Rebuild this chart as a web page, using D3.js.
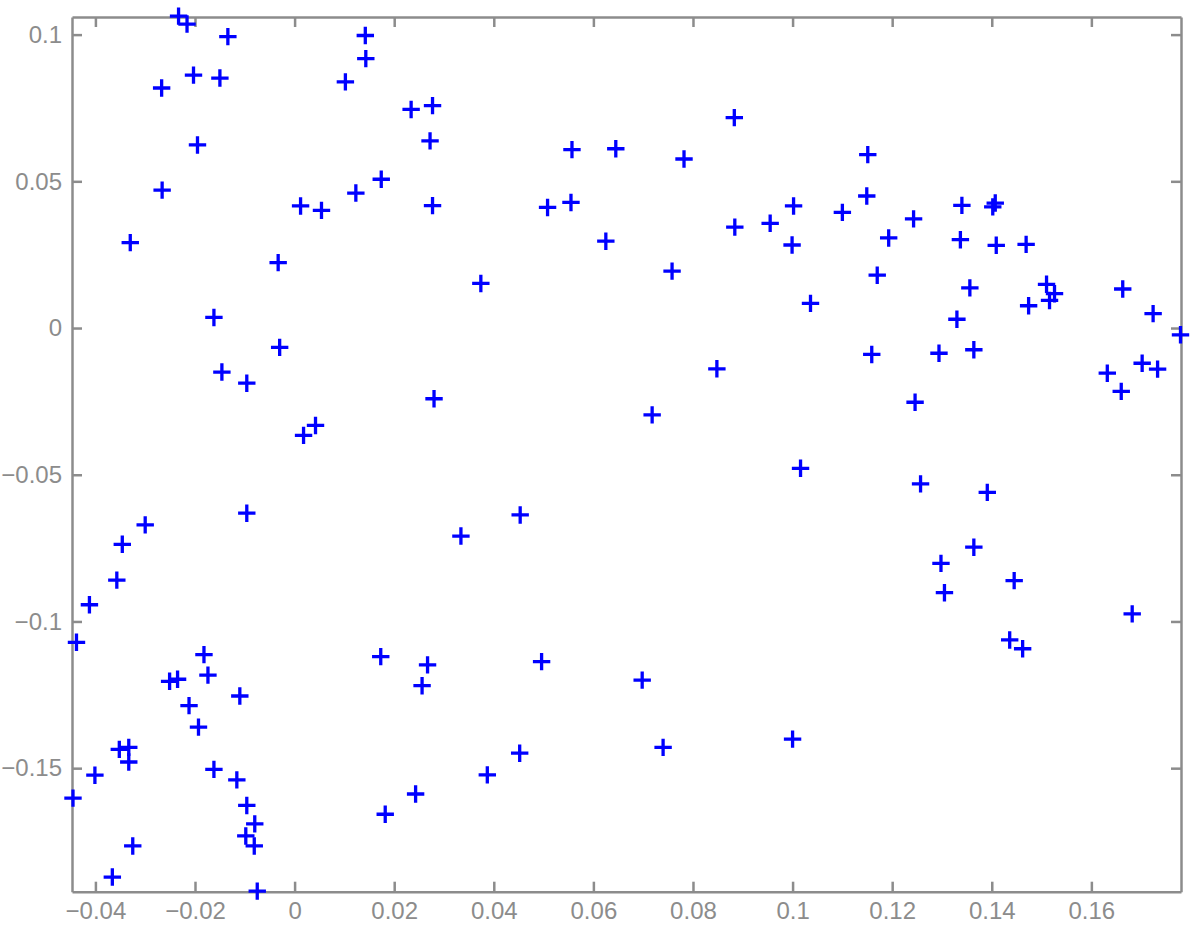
<!DOCTYPE html>
<html>
<head>
<meta charset="utf-8">
<script src="https://cdn.jsdelivr.net/npm/d3@7"></script>
<style>
  html, body { margin: 0; padding: 0; background: #fff; }
  svg { display: block; }
</style>
</head>
<body>
<svg id="chart" width="1200" height="925"></svg>
<script>
// Data
const xValues = [
  -0.0233, -0.0216, -0.0134, 0.0142, 0.0143, 0.0102, -0.0203, -0.0150, -0.0267, 0.0234,
  0.0277, 0.0272, -0.0195, -0.0266, 0.0174, 0.0123, 0.0012, 0.0054, 0.0277, -0.0330,
  -0.0033, -0.0162, -0.0030, -0.0146, -0.0096, 0.0280, 0.0042, 0.0018,
  0.0883, 0.0557, 0.0645, 0.0782, 0.0508, 0.0555, 0.1002, 0.0884, 0.0955, 0.0999,
  0.0625, 0.0758, 0.0374, 0.1036, 0.0848, 0.0718,
  0.1151, 0.1149, 0.1100, 0.1243, 0.1340, 0.1407, 0.1402, 0.1193, 0.1337, 0.1409,
  0.1469, 0.1170, 0.1356, 0.1510, 0.1526, 0.1516, 0.1474, 0.1663, 0.1724, 0.1330,
  0.1779, 0.1159, 0.1294, 0.1364, 0.1702, 0.1733, 0.1632, 0.1660, 0.1246,
  -0.0096, -0.0300, -0.0346, -0.0357, -0.0412, -0.0438, -0.0182, 0.0173, 0.0267, 0.0256,
  -0.0251, -0.0235, -0.0174, -0.0110, -0.0212, -0.0193, -0.0352, -0.0333, -0.0333, -0.0401,
  -0.0162, -0.0116, -0.0445, -0.0096, -0.0080, -0.0098, -0.0081, -0.0325, 0.0182, 0.0243,
  -0.0366, -0.0075,
  0.1016, 0.0453, 0.0334, 0.0496, 0.0698, 0.0452, 0.0387, 0.0740, 0.1000,
  0.1257, 0.1391, 0.1364, 0.1298, 0.1305, 0.1445, 0.1682, 0.1436, 0.1462
];
const yValues = [
  0.1063, 0.1036, 0.0993, 0.0997, 0.0918, 0.0839, 0.0862, 0.0852, 0.0818, 0.0745,
  0.0758, 0.0638, 0.0624, 0.0470, 0.0507, 0.0460, 0.0416, 0.0401, 0.0417, 0.0291,
  0.0223, 0.0036, -0.0066, -0.0150, -0.0188, -0.0241, -0.0332, -0.0366,
  0.0717, 0.0608, 0.0611, 0.0576, 0.0411, 0.0428, 0.0416, 0.0344, 0.0357, 0.0283,
  0.0296, 0.0194, 0.0152, 0.0084, -0.0139, -0.0296,
  0.0591, 0.0450, 0.0394, 0.0372, 0.0418, 0.0426, 0.0413, 0.0307, 0.0301, 0.0282,
  0.0285, 0.0180, 0.0137, 0.0149, 0.0117, 0.0094, 0.0076, 0.0133, 0.0049, 0.0030,
  -0.0023, -0.0090, -0.0086, -0.0074, -0.0120, -0.0140, -0.0154, -0.0216, -0.0253,
  -0.0631, -0.0671, -0.0737, -0.0859, -0.0943, -0.1071, -0.1113, -0.1120, -0.1148, -0.1219,
  -0.1204, -0.1197, -0.1183, -0.1254, -0.1287, -0.1360, -0.1436, -0.1429, -0.1479, -0.1524,
  -0.1504, -0.1540, -0.1602, -0.1627, -0.1690, -0.1731, -0.1765, -0.1765, -0.1657, -0.1588,
  -0.1871, -0.1919,
  -0.0478, -0.0637, -0.0709, -0.1137, -0.1200, -0.1449, -0.1523, -0.1429, -0.1401,
  -0.0531, -0.0560, -0.0747, -0.0802, -0.0902, -0.0861, -0.0974, -0.1063, -0.1093
];
const xTicks = [-0.04, -0.02, 0, 0.02, 0.04, 0.06, 0.08, 0.1, 0.12, 0.14, 0.16];
const yTicks = [-0.15, -0.1, -0.05, 0, 0.05, 0.1];
const xDomain = [-0.0447, 0.178];
const yDomain = [-0.1921, 0.106];

(function () {
  const points = xValues.map((xv, i) => ({ x: xv, y: yValues[i] }));

  const svg = d3.select("#chart");
  const mLeft = 72, mRight = 1181, mTop = 17, mBottom = 891.7;
  const axisColor = "#8c8c8c";

  const x = d3.scaleLinear().domain(xDomain).range([mLeft, mRight]);
  const y = d3.scaleLinear().domain(yDomain).range([mBottom, mTop]);
  const fmt = d3.format("~g");

  function styleAxis(g) {
    g.select(".domain").attr("stroke", axisColor).attr("stroke-width", 2.5);
    g.selectAll(".tick line").attr("stroke", axisColor).attr("stroke-width", 2.5);
    g.selectAll(".tick text").attr("fill", axisColor)
      .style("font-family", "'Liberation Sans', Arial, Helvetica, sans-serif")
      .style("font-size", "24px");
  }

  svg.append("g").attr("transform", `translate(0,${mBottom})`)
    .call(d3.axisBottom(x).tickValues(xTicks).tickFormat(fmt).tickSize(-10).tickSizeOuter(0).tickPadding(10))
    .call(styleAxis);
  svg.append("g").attr("transform", `translate(0,${mTop})`)
    .call(d3.axisTop(x).tickValues(xTicks).tickFormat("").tickSize(-10).tickSizeOuter(0))
    .call(styleAxis);
  svg.append("g").attr("transform", `translate(${mLeft},0)`)
    .call(d3.axisLeft(y).tickValues(yTicks).tickFormat(fmt).tickSize(-10).tickSizeOuter(0).tickPadding(10))
    .call(styleAxis);
  svg.append("g").attr("transform", `translate(${mRight},0)`)
    .call(d3.axisRight(y).tickValues(yTicks).tickFormat("").tickSize(-10).tickSizeOuter(0))
    .call(styleAxis);

  const half = 8.7;
  svg.append("g").attr("class", "points")
    .selectAll("path")
    .data(points)
    .join("path")
    .attr("d", d => {
      const cx = x(d.x), cy = y(d.y);
      return `M${cx - half},${cy}H${cx + half}M${cx},${cy - half}V${cy + half}`;
    })
    .attr("fill", "none")
    .attr("stroke", "#0000ff")
    .attr("stroke-width", 3.3);
})();
</script>
</body>
</html>
